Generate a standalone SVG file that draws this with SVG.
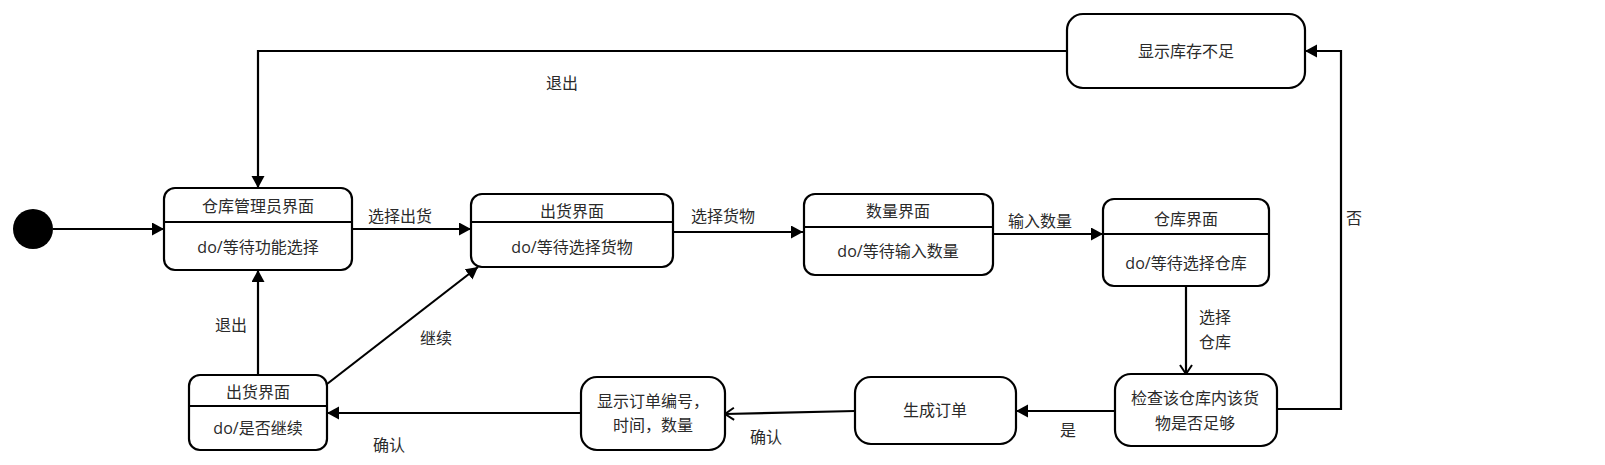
<svg xmlns="http://www.w3.org/2000/svg" width="1605" height="465" viewBox="0 0 1605 465">
<style>
.box{fill:#fff;stroke:#000;stroke-width:2.2}
.div{stroke:#000;stroke-width:2.2}
.t{font-family:"Open Sans","Noto Sans CJK SC",sans-serif;font-size:16px;fill:#2a2a2a;text-anchor:middle;dominant-baseline:central}
.c{fill:none;stroke:#000;stroke-width:2.2}
.f{marker-end:url(#fa)}
.o{marker-end:url(#oa)}
</style>
<defs>
<marker id="fa" markerUnits="userSpaceOnUse" markerWidth="14" markerHeight="14" refX="12" refY="6.5" orient="auto">
<path d="M0,0 L12,6.5 L0,13 z" fill="#000"/>
</marker>
<marker id="oa" markerUnits="userSpaceOnUse" markerWidth="14" markerHeight="16" refX="11" refY="7" orient="auto">
<path d="M2,1 L11,7 L2,13" fill="none" stroke="#000" stroke-width="2"/>
</marker>
</defs>
<g id="connectors">
<path class="c f" d="M53,229 H164"/>
<path class="c f" d="M352,229 H471"/>
<path class="c f" d="M673,232 H803"/>
<path class="c f" d="M993,234 H1103"/>
<path class="c o" d="M1186,286 V374"/>
<path class="c f" d="M1115,411 H1016"/>
<path class="c o" d="M855,411 L725,414"/>
<path class="c f" d="M581,413 H327"/>
<path class="c f" d="M258,375 V270"/>
<path class="c f" d="M327,384 L478,267"/>
<path class="c f" d="M1277,409 H1341 V51 H1305"/>
<path class="c f" d="M1067,51 H258 V188"/>
<text class="t" x="400" y="216">选择出货</text>
<text class="t" x="723" y="216">选择货物</text>
<text class="t" x="1040" y="221">输入数量</text>
<text class="t" x="1215" y="317">选择</text>
<text class="t" x="1215" y="342">仓库</text>
<text class="t" x="1068" y="430">是</text>
<text class="t" x="766" y="437">确认</text>
<text class="t" x="389" y="445">确认</text>
<text class="t" x="231" y="325">退出</text>
<text class="t" x="436" y="338">继续</text>
<text class="t" x="1354" y="218">否</text>
<text class="t" x="562" y="83">退出</text>
</g>
<g id="init"><circle cx="33" cy="229" r="20" fill="#000"/></g>
<g id="n1">
<rect class="box" x="164" y="188" width="188" height="82" rx="11"/>
<line class="div" x1="164" y1="222" x2="352" y2="222"/>
<text class="t" x="258" y="206">仓库管理员界面</text>
<text class="t" x="258" y="247">do/等待功能选择</text>
</g>
<g id="n2">
<rect class="box" x="471" y="194" width="202" height="73" rx="11"/>
<line class="div" x1="471" y1="222" x2="673" y2="222"/>
<text class="t" x="572" y="211">出货界面</text>
<text class="t" x="572" y="247">do/等待选择货物</text>
</g>
<g id="n3">
<rect class="box" x="804" y="194" width="189" height="81" rx="11"/>
<line class="div" x1="804" y1="227" x2="993" y2="227"/>
<text class="t" x="898" y="211">数量界面</text>
<text class="t" x="898" y="251">do/等待输入数量</text>
</g>
<g id="n4">
<rect class="box" x="1103" y="199" width="166" height="87" rx="11"/>
<line class="div" x1="1103" y1="234" x2="1269" y2="234"/>
<text class="t" x="1186" y="219">仓库界面</text>
<text class="t" x="1186" y="263">do/等待选择仓库</text>
</g>
<g id="n5">
<rect class="box" x="1115" y="374" width="162" height="72" rx="16"/>
<text class="t" x="1195" y="398">检查该仓库内该货</text>
<text class="t" x="1195" y="423">物是否足够</text>
</g>
<g id="n6">
<rect class="box" x="855" y="377" width="161" height="67" rx="16"/>
<text class="t" x="935" y="410">生成订单</text>
</g>
<g id="n7">
<rect class="box" x="581" y="377" width="144" height="73" rx="16"/>
<text class="t" x="653" y="401">显示订单编号，</text>
<text class="t" x="653" y="425">时间，数量</text>
</g>
<g id="n8">
<rect class="box" x="189" y="375" width="138" height="75" rx="11"/>
<line class="div" x1="189" y1="406" x2="327" y2="406"/>
<text class="t" x="258" y="392">出货界面</text>
<text class="t" x="258" y="428">do/是否继续</text>
</g>
<g id="n9">
<rect class="box" x="1067" y="14" width="238" height="74" rx="16"/>
<text class="t" x="1186" y="51">显示库存不足</text>
</g>
</svg>
